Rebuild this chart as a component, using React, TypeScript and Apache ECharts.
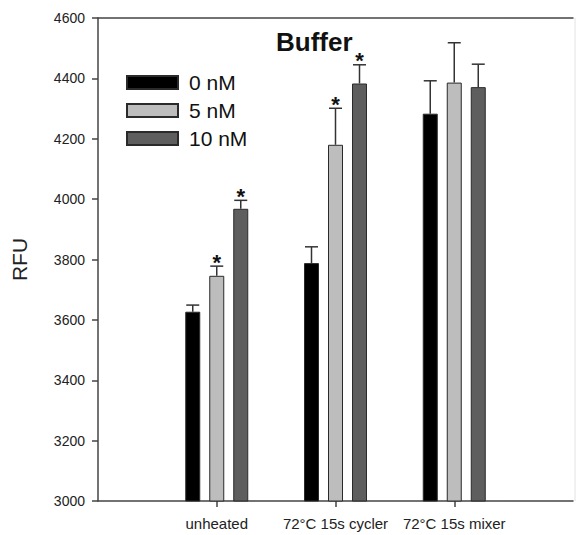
import React, { useEffect, useRef } from "react";
import * as echarts from "echarts";

const categories = ["", "unheated", "72°C 15s cycler", "72°C 15s mixer", ""];
const seriesNames = ["0 nM", "5 nM", "10 nM"];
const values0 = [null, 3627, 3788, 4283, null];
const values5 = [null, 3746, 4180, 4386, null];
const values10 = [null, 3968, 4383, 4371, null];
const errors0 = [0, 22, 54, 109, 0];
const errors5 = [0, 32, 121, 132, 0];
const errors10 = [0, 28, 62, 76, 0];
const signif0 = [false, false, false, false, false];
const signif5 = [false, true, true, false, false];
const signif10 = [false, true, true, false, false];
const yTicks = { min: 3000, max: 4600, interval: 200 };

const colors = ["#000000", "#bdbdbd", "#5e5e5e"];
const BAR_W = 15;
const BAR_GAP = 9;
const FONT = "'Liberation Sans', Arial, sans-serif";

export default function App() {
  const ref = useRef<HTMLDivElement>(null);
  useEffect(() => {
    if (!ref.current) return;
    const chart = echarts.init(ref.current, null, { renderer: "svg" });
    const allValues = [values0, values5, values10];
    const allErr = [errors0, errors5, errors10];
    const allSig = [signif0, signif5, signif10];

    const barSeries = seriesNames.map((name, i) => ({
      name,
      type: "bar",
      data: allValues[i],
      barWidth: BAR_W,
      barGap: `${(BAR_GAP / BAR_W) * 100}%`,
      itemStyle: { color: colors[i], borderColor: "#2a2a2a", borderWidth: 1 },
      z: 2,
    }));

    const errSeries = seriesNames.map((name, si) => ({
      type: "custom",
      name: name + " err",
      z: 3,
      data: categories.map((c, k) => [k, allValues[si][k], allErr[si][k], allSig[si][k] ? 1 : 0]),
      renderItem: (params: any, api: any) => {
        const v = api.value(1);
        if (v === null || v === undefined || isNaN(v)) return null;
        const k = api.value(0);
        const e = api.value(2);
        const sig = api.value(3);
        const base = api.coord([k, v]);
        const top = api.coord([k, v + e]);
        const off = (si - 1) * (BAR_W + BAR_GAP);
        const x = base[0] + off;
        const children: any[] = [
          { type: "line", shape: { x1: x, y1: base[1], x2: x, y2: top[1] }, style: { stroke: "#333", lineWidth: 1.5 } },
          { type: "line", shape: { x1: x - 6.5, y1: top[1], x2: x + 6.5, y2: top[1] }, style: { stroke: "#333", lineWidth: 1.5 } },
        ];
        if (sig) {
          children.push({
            type: "text",
            style: {
              text: "*",
              x: x,
              y: top[1] + 7,
              textAlign: "center",
              textVerticalAlign: "bottom",
              font: `bold 22px ${FONT}`,
              fill: "#111",
            },
          });
        }
        return { type: "group", children };
      },
    }));

    chart.setOption({
      animation: false,
      textStyle: { fontFamily: FONT },
      title: {
        text: "Buffer",
        left: 276,
        top: 29,
        padding: 0,
        textStyle: { fontSize: 26, fontWeight: "bold", color: "#111", fontFamily: FONT },
      },
      legend: {
        data: seriesNames,
        orient: "vertical",
        left: 126,
        top: 72,
        padding: 0,
        icon: "rect",
        itemWidth: 51,
        itemHeight: 13,
        itemGap: 7,
        textStyle: { fontSize: 21, color: "#111", padding: [0, 0, 0, 6] },
      },
      grid: { left: 98, right: -5, top: 18, bottom: 34 },
      xAxis: [
        {
          type: "category",
          data: categories,
          boundaryGap: false,
          axisLine: { show: true, lineStyle: { color: "#444", width: 1.5 } },
          axisTick: {
            show: true,
            length: 6,
            interval: (i: number, v: string) => v !== "",
            lineStyle: { color: "#444", width: 1.5 },
          },
          axisLabel: { fontSize: 15, color: "#222", margin: 15, interval: 0 },
          splitLine: { show: false },
        },
        {
          type: "category",
          position: "top",
          data: categories,
          boundaryGap: false,
          axisLine: { show: true, lineStyle: { color: "#444", width: 1.5 } },
          axisTick: { show: false },
          axisLabel: { show: false },
          splitLine: { show: false },
        },
      ],
      yAxis: {
        type: "value",
        min: yTicks.min,
        max: yTicks.max,
        interval: yTicks.interval,
        name: "RFU",
        nameLocation: "middle",
        nameGap: 68,
        nameTextStyle: { fontSize: 21, color: "#222" },
        axisLine: { show: true, lineStyle: { color: "#444", width: 1.5 } },
        axisTick: { show: true, length: 6, lineStyle: { color: "#444", width: 1.5 } },
        axisLabel: { fontSize: 14, color: "#222", margin: 13, formatter: (v: number) => String(v) },
        splitLine: { show: false },
      },
      graphic: [
        { type: "line", shape: { x1: 575, y1: 18, x2: 575, y2: 501 }, style: { stroke: "#e2e2e2", lineWidth: 1 }, z: 1 },
      ],
      series: [...barSeries, ...errSeries],
    });
    return () => chart.dispose();
  }, []);
  return <div ref={ref} style={{ width: 576, height: 535, position: "absolute", left: 0, top: 0 }} />;
}
